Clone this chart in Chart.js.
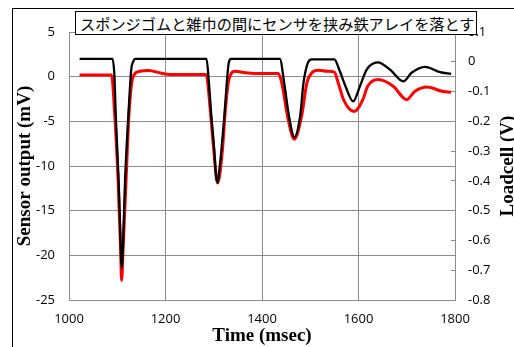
<!DOCTYPE html>
<html>
<head>
<meta charset="utf-8">
<script src="https://cdn.jsdelivr.net/npm/chart.js@4"></script>
<style>
  body { margin: 0; background: #fff; }
  #wrap { position: relative; width: 514px; height: 347px; overflow: hidden; }
  #frame { position: absolute; left: 12px; top: 8px; width: 600px; height: 400px;
           border-left: 1px solid #000; border-top: 1px solid #000; }
  #titleBox { position: absolute; left: 75px; top: 11px; width: 402px; height: 24px;
              border: 1px solid #000; background: #fff;
              font: 15.2px "Noto Sans CJK JP"; line-height: 22px; padding-left: 4px; box-sizing: border-box;
              white-space: nowrap; }
</style>
</head>
<body>
<div id="wrap">
  <div id="frame"></div>
  <canvas id="chart" width="514" height="347" style="position:absolute;left:0;top:0"></canvas>
  <div id="titleBox">スポンジゴムと雑巾の間にセンサを挟み鉄アレイを落とす</div>
</div>
<script>
// loadcell (black, right axis, V)
const loadTime = [1022, 1090, 1094, 1097, 1103, 1107, 1109, 1112, 1116, 1123, 1129, 1133, 1137,
  1285, 1290, 1295, 1301, 1304, 1308, 1311, 1316, 1322, 1327, 1331, 1336,
  1437, 1446, 1456, 1467, 1479, 1486, 1495, 1503,
  1550, 1560, 1573, 1589, 1603, 1617, 1640, 1665, 1693, 1710, 1738, 1769, 1792];
const loadVolt = [0.01, 0.01, -0.043, -0.183, -0.406, -0.615, -0.693, -0.615, -0.406, -0.183, -0.026, 0.0, 0.01,
  0.01, -0.071, -0.183, -0.295, -0.373, -0.407, -0.373, -0.295, -0.183, -0.071, -0.004, 0.01,
  0.01, -0.071, -0.183, -0.253, -0.183, -0.071, -0.004, 0.008,
  0.008, -0.026, -0.082, -0.133, -0.082, -0.026, -0.002, -0.026, -0.066, -0.037, -0.017, -0.035, -0.041];

// sensor (red, left axis, mV)
const sensTime = [1022, 1088, 1095, 1102, 1107, 1109, 1112, 1118, 1124, 1130, 1135, 1147, 1165, 1190, 1210,
  1284, 1294, 1300, 1308, 1318, 1323, 1330, 1335, 1344, 1365, 1400,
  1434, 1441, 1453, 1467, 1482, 1493, 1503, 1517, 1535,
  1550, 1558, 1569, 1591, 1609, 1619, 1641, 1672, 1700, 1717, 1742, 1773, 1792];
const sensMv = [0.2, 0.2, -4.44, -11.9, -19.4, -22.8, -19.4, -11.9, -4.44, -0.7, 0.23, 0.6, 0.7, 0.4, 0.25,
  0.25, -4.44, -8.2, -11.9, -8.2, -4.44, -0.7, 0.23, 0.6, 0.45, 0.35,
  0.35, -0.7, -4.44, -7.0, -4.44, -0.7, 0.42, 0.72, 0.6,
  0.5, -0.7, -2.57, -3.9, -2.57, -1.08, -0.33, -1.08, -2.57, -1.64, -1.15, -1.64, -1.75];

const xTicks = [1000, 1800, 200];
const leftTicks = [-25, 5, 5];
const rightTicks = [-0.8, 0.1, 0.1];

const gridCol = '#8c8c8c';
const tickFont = { family: 'Open Sans', size: 13 };
const titleFont = { family: 'Liberation Serif', size: 19, weight: 'bold', lineHeight: 1 };

function pts(xs, ys) {
  return xs.map((x, i) => ({ x: x, y: ys[i] }));
}

// right axis title reads bottom-to-top, so draw it here
const rightTitle = {
  id: 'rightTitle',
  afterDraw(chart) {
    const ctx = chart.ctx;
    const a = chart.chartArea;
    ctx.save();
    ctx.translate(513, (a.top + a.bottom) / 2);
    ctx.rotate(-Math.PI / 2);
    ctx.font = 'bold 19px "Liberation Serif"';
    ctx.fillStyle = '#000';
    ctx.textAlign = 'center';
    ctx.textBaseline = 'alphabetic';
    ctx.fillText('Loadcell (V)', 0, 0);
    ctx.restore();
  }
};

new Chart(document.getElementById('chart'), {
  type: 'line',
  data: {
    datasets: [
      { data: pts(loadTime, loadVolt), yAxisID: 'y2', borderColor: '#000', borderWidth: 2.3,
        pointRadius: 0, cubicInterpolationMode: 'monotone', order: 0 },
      { data: pts(sensTime, sensMv), yAxisID: 'y', borderColor: '#ff0000', borderWidth: 3,
        pointRadius: 0, cubicInterpolationMode: 'monotone', order: 1 }
    ]
  },
  options: {
    responsive: false,
    animation: false,
    layout: { padding: { top: 32, left: 0, right: 0, bottom: 0 } },
    plugins: { legend: { display: false }, tooltip: { enabled: false } },
    scales: {
      x: {
        type: 'linear', min: xTicks[0], max: xTicks[1],
        ticks: { stepSize: xTicks[2], color: '#000', font: tickFont, padding: 11, maxRotation: 0,
                 callback: v => String(v) },
        grid: { color: gridCol, drawTicks: false },
        border: { color: gridCol },
        title: { display: true, text: 'Time (msec)', color: '#000', font: titleFont, padding: { top: 0, bottom: 1 } },
        afterFit(s) { s.height = 47; }
      },
      y: {
        position: 'left', min: leftTicks[0], max: leftTicks[1],
        ticks: { stepSize: leftTicks[2], color: '#000', font: tickFont, padding: 14 },
        grid: { color: gridCol, drawTicks: false },
        border: { color: gridCol },
        title: { display: true, text: 'Sensor output (mV)', color: '#000', font: titleFont, padding: { top: 16, bottom: 0 } },
        afterFit(s) { s.width = 69; }
      },
      y2: {
        position: 'right', min: rightTicks[0], max: rightTicks[1],
        ticks: { stepSize: rightTicks[2], color: '#000', font: tickFont, padding: 17 },
        grid: { drawOnChartArea: false, color: gridCol, tickLength: -4 },
        border: { color: gridCol },
        afterFit(s) { s.width = 59; }
      }
    }
  },
  plugins: [rightTitle]
});
</script>
</body>
</html>
